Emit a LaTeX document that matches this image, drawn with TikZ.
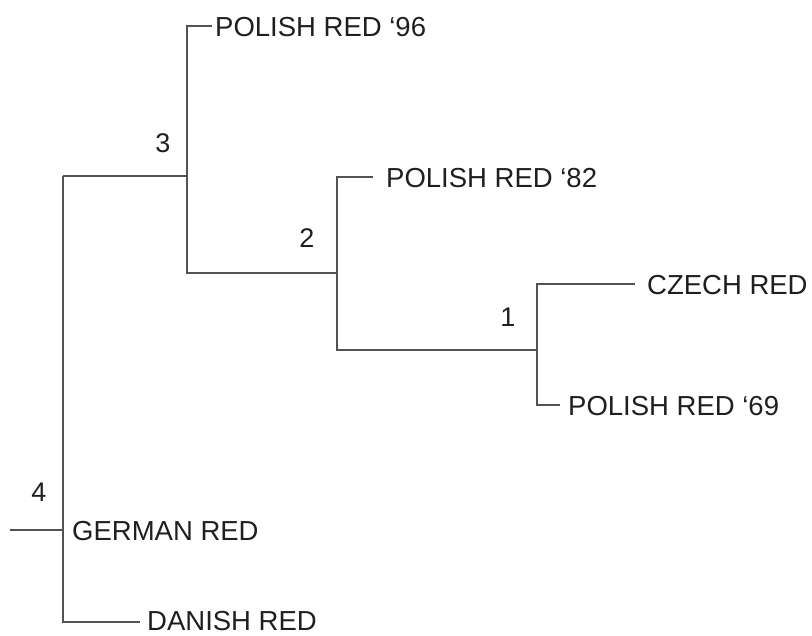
\documentclass[tikz,border=0pt]{standalone}
\usepackage{fontspec}
\setmainfont{Liberation Sans}
\begin{document}
\begin{tikzpicture}[x=1pt,y=-1pt,
  branch/.style={draw=black!68, line width=1.8pt},
  leaf/.style={anchor=west, inner sep=0pt, text=black!88, font=\fontsize{27.5}{30}\selectfont},
  num/.style={inner sep=0pt, text=black!88, font=\fontsize{27}{30}\selectfont}]
\useasboundingbox (0,0) rectangle (812,636);
% internal nodes
\coordinate (root) at (10,530);
\coordinate (n4) at (63,530);
\coordinate (n3) at (187,176);
\coordinate (n2) at (337,273);
\coordinate (n1) at (537,350);
% leaf line ends
\coordinate (e96) at (212,26);
\coordinate (e82) at (373,177);
\coordinate (ecz) at (635,284);
\coordinate (e69) at (560,405);
\coordinate (eda) at (140,622);
% leaf labels
\node[leaf] (l96) at (215,27) {POLISH RED ‘96};
\node[leaf] (l82) at (386,178) {POLISH RED ‘82};
\node[leaf] (lcz) at (647,285) {CZECH RED};
\node[leaf] (l69) at (568,406) {POLISH RED ‘69};
\node[leaf] (lge) at (72,531) {GERMAN RED};
\node[leaf] (lda) at (147,621) {DANISH RED};
% node numbers
\node[num] (k4) at (39,492) {4};
\node[num] (k3) at (163,143) {3};
\node[num] (k2) at (307,238) {2};
\node[num] (k1) at (508,317) {1};
% branches
\draw[branch] (root) -- (n4);
\draw[branch] (n3 -| n4) |- (eda);
\draw[branch] (n3 -| n4) -- (n3);
\draw[branch] (e96) -| (n2 -| n3) -- (n2);
\draw[branch] (e82) -| (n1 -| n2) -- (n1);
\draw[branch] (ecz) -| (n1) |- (e69);
\end{tikzpicture}
\end{document}
